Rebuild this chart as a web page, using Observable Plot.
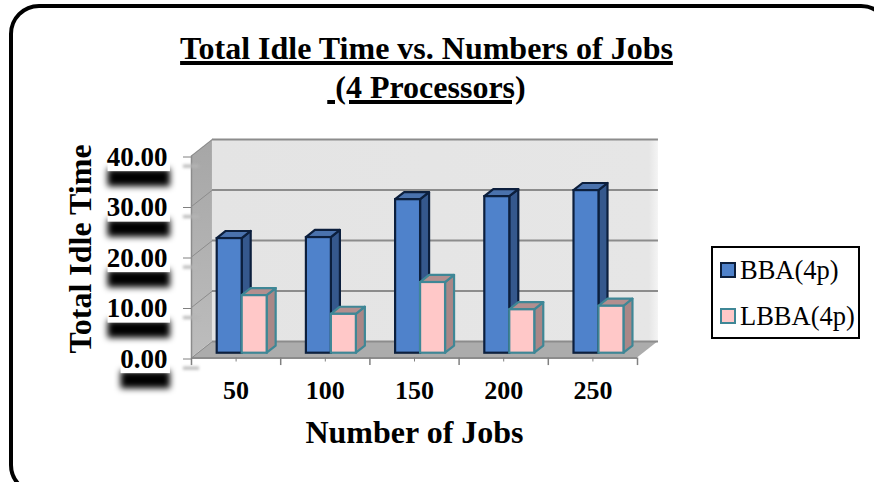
<!DOCTYPE html>
<html>
<head>
<meta charset="utf-8">
<script src="https://cdn.jsdelivr.net/npm/d3@7"></script>
<script src="https://cdn.jsdelivr.net/npm/@observablehq/plot@0.6"></script>
<style>
  html, body { margin: 0; background: #fff; overflow: hidden; }
  #page { position: relative; width: 874px; height: 482px; overflow: hidden; font-family: "Liberation Serif", serif; color: #000; }
  #frame { position: absolute; left: 9px; top: 4px; width: 874px; height: 483px; border: 4px solid #000; border-radius: 30px; }
  #title { position: absolute; left: 126.5px; width: 600px; top: 29px; text-align: center; font-weight: bold; font-size: 32px; line-height: 38.5px; white-space: pre; text-decoration: underline; text-decoration-thickness: 3.5px; text-underline-offset: 2px; }
  #legend { position: absolute; left: 711px; top: 246px; width: 145px; height: 89px; border: 2px solid #000; background: #fff; font-size: 26.5px; }
  #legend div { position: absolute; left: 27px; white-space: nowrap; line-height: 30px; }
  #legend i { position: absolute; left: -20px; top: 7px; width: 12px; height: 12px; border-style: solid; border-width: 2px; }
  svg { position: absolute; left: 0; top: 0; }
</style>
</head>
<body>
<div id="page">
  <div id="frame"></div>
  <div id="chart"></div>
  <div id="title"></div>
  <div id="legend"></div>
</div>
<script>
// Chart content
const titleLines = ["Total Idle Time vs. Numbers of Jobs", " (4 Processors)"];
const jobs = [50, 100, 150, 200, 250];
const bba = [22.7, 22.9, 30.4, 31.0, 32.2];
const lbba = [11.4, 7.7, 14.0, 8.6, 9.3];
const seriesNames = ["BBA(4p)", "LBBA(4p)"];
const yTicks = [0, 10, 20, 30, 40];

// Oblique 3D box model, in data units
const depthX = 0.235, depthY = 3.27;      // offset from the front plane to the back wall
const wallTop = 40;
const barLift = 0.29, barDepth = 0.43;    // where a bar starts along the depth, and how deep it is
const barWidth = 0.28, barStart = 0.22;   // width of a bar, gap before the first bar of a group

const blue = {front: "#4f82cb", side: "#35588d", top: "#4a72ad", edge: "#0c1f3d"};
const pink = {front: "#ffc8c8", side: "#a98787", top: "#b28f8f", edge: "#3f8796"};

function barMarks(values, slot, c) {
  const bars = values.map((v, i) => {
    const x = i + barStart + slot * barWidth + barLift * depthX;
    const base = barLift * depthY;
    return {i, x, x2: x + barWidth, base, top: v + base};
  });
  const dx = barDepth * depthX, dy = barDepth * depthY;
  const side = bars.flatMap(b => [
    {i: b.i, x: b.x2, y1: b.base, y2: b.top},
    {i: b.i, x: b.x2 + dx, y1: b.base + dy, y2: b.top + dy}
  ]);
  const top = bars.flatMap(b => [
    {i: b.i, y: b.top, x1: b.x, x2: b.x2},
    {i: b.i, y: b.top + dy, x1: b.x + dx, x2: b.x2 + dx}
  ]);
  const edge = {stroke: c.edge, strokeWidth: 2.2};
  return [
    Plot.areaY(side, {x: "x", y1: "y1", y2: "y2", z: "i", fill: c.side, ...edge}),
    Plot.areaX(top, {y: "y", x1: "x1", x2: "x2", z: "i", fill: c.top, ...edge}),
    Plot.rect(bars, {x1: "x", x2: "x2", y1: "base", y2: "top", fill: c.front, ...edge})
  ];
}

// Gradient paints for the walls
function wallGradients() {
  const defs = d3.create("svg:defs");
  const add = (id, x2, y2, stops) => {
    const g = defs.append("linearGradient").attr("id", id)
      .attr("x1", 0).attr("y1", 0).attr("x2", x2).attr("y2", y2);
    stops.forEach(([o, c]) => g.append("stop").attr("offset", o).attr("stop-color", c));
  };
  add("backWall", 1, 0, [[0, "#e4e4e4"], [0.98, "#e6e6e6"], [1, "#f4f4f4"]]);
  add("sideWall", 0, 1, [[0, "#a6a6a6"], [1, "#bdbdbd"]]);
  return defs.node();
}

// Tick labels sit on white plates with a blurred black band underneath
const labelRight = -0.236;
const labelText = d => d.toFixed(2);
const labelLeft = d => labelRight - labelText(d).length * 0.146 + 0.03;

const chart = Plot.plot({
  width: 874,
  height: 482,
  marginLeft: 191,
  marginRight: 237,
  marginTop: 155.5,
  marginBottom: 124.5,
  style: {background: "transparent", fontFamily: "Liberation Serif", color: "#000", overflow: "visible"},
  x: {type: "linear", domain: [0, jobs.length]},
  y: {type: "linear", domain: [0, wallTop]},
  marks: [
    wallGradients,

    // Back wall, left wall and floor
    Plot.rect([0], {x1: depthX, x2: jobs.length + depthX, y1: depthY, y2: wallTop + depthY, fill: "url(#backWall)"}),
    Plot.areaY([{x: 0, a: 0, b: wallTop}, {x: depthX, a: depthY, b: wallTop + depthY}],
      {x: "x", y1: "a", y2: "b", fill: "url(#sideWall)"}),
    Plot.areaX([{y: 0, a: 0, b: jobs.length}, {y: depthY, a: depthX, b: jobs.length + depthX}],
      {y: "y", x1: "a", x2: "b", fill: "#acacac"}),

    // Gridlines across the back wall and down the left wall
    Plot.ruleY(yTicks, {y: d => d + depthY, x1: depthX, x2: jobs.length + depthX, stroke: "#8c8c8c", strokeWidth: 2}),
    Plot.link(yTicks, {x1: 0, x2: depthX, y1: d => d, y2: d => d + depthY, stroke: "#8c8c8c", strokeWidth: 1}),

    ...barMarks(bba, 0, blue),
    ...barMarks(lbba, 1, pink),

    // Front edges of the floor and the wall
    Plot.ruleY([0], {stroke: "#8c8c8c", strokeWidth: 2}),
    Plot.ruleX([0], {y1: 0, y2: wallTop, stroke: "#8c8c8c", strokeWidth: 1.5}),

    // Boundary ticks between the job groups
    Plot.ruleX(d3.range(jobs.length + 1), {y1: 0, y2: -1.5, stroke: "#808080", strokeWidth: 1.5}),

    // Faint smudges trailing the y ticks
    Plot.ruleY(yTicks, {y: d => d - 2, x1: -0.09, x2: 0.09, stroke: "#b5b5b5", strokeWidth: 3, imageFilter: "blur(1.5px)"}),

    // Plates behind the y tick labels
    Plot.rect(yTicks, {x1: labelLeft, x2: labelRight, y1: d => d - 6.1, y2: d => d - 2.6, fill: "#000", imageFilter: "blur(3px)"}),
    Plot.rect(yTicks, {x1: labelLeft, x2: labelRight, y1: d => d - 3.1, y2: d => d + 1.8, fill: "#fff"}),

    Plot.axisY(yTicks, {
      label: null, tickSize: 8, tickPadding: 16, stroke: "#808080",
      tickFormat: labelText, fontSize: 27, fontWeight: "bold", fill: "#000", dy: 1
    }),
    Plot.axisX(jobs.map((_, i) => i + 0.5), {
      label: null, tickSize: 4, tickPadding: 19, stroke: "#808080",
      tickFormat: d => jobs[d - 0.5], fontSize: 26, fontWeight: "bold", fill: "#000"
    }),

    // Axis titles
    Plot.text(["Number of Jobs"], {frameAnchor: "bottom", dy: 75, fontSize: 32, fontWeight: "bold", fill: "#000", lineAnchor: "middle"}),
    Plot.text(["Total Idle Time"], {frameAnchor: "left", textAnchor: "middle", dx: -111, dy: -8, rotate: -90, fontSize: 32, fontWeight: "bold", fill: "#000"})
  ]
});
document.getElementById("chart").append(chart);

// Title and legend
const title = document.getElementById("title");
titleLines.forEach(t => {
  const line = document.createElement("div");
  line.textContent = t;
  title.append(line);
});
const legend = document.getElementById("legend");
seriesNames.forEach((name, i) => {
  const c = i ? pink : blue;
  const row = document.createElement("div");
  row.style.top = (7 + i * 46) + "px";
  row.textContent = name;
  const swatch = document.createElement("i");
  swatch.style.background = c.front;
  swatch.style.borderColor = c.edge;
  row.append(swatch);
  legend.append(row);
});
</script>
</body>
</html>
